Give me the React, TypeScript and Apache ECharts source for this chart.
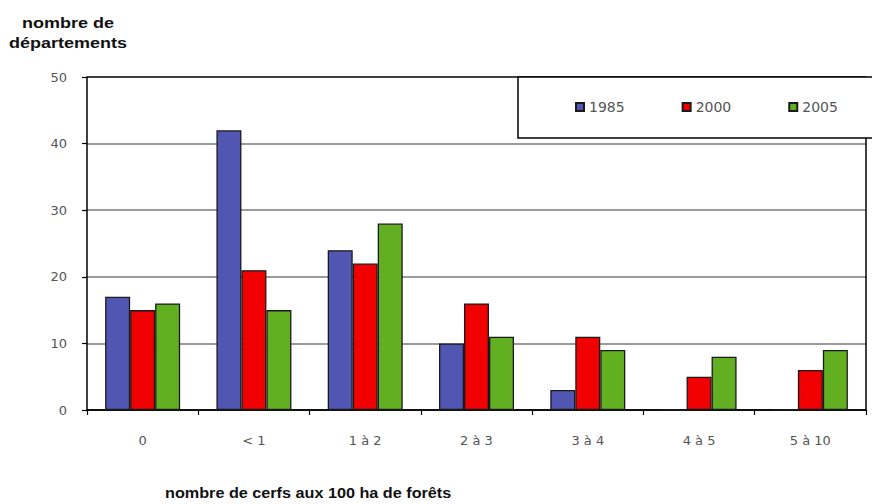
import React, { useEffect, useRef } from "react";
import * as echarts from "echarts";

const categories = ["0", "< 1", "1 à 2", "2 à 3", "3 à 4", "4 à 5", "5 à 10"];
const seriesNames = ["1985", "2000", "2005"];
const values1985 = [17, 42, 24, 10, 3, 0, 0];
const values2000 = [15, 21, 22, 16, 11, 5, 6];
const values2005 = [16, 15, 28, 11, 9, 8, 9];
const colors = ["#5056B2", "#F00000", "#62B022"];
const yTitle = ["nombre de", "départements"];
const xTitle = "nombre de cerfs aux 100 ha de forêts";

export default function App() {
  const ref = useRef<HTMLDivElement>(null);
  useEffect(() => {
    if (!ref.current) return;
    const chart = echarts.init(ref.current, null, { renderer: "svg" });
    const data = [values1985, values2000, values2005];
    chart.setOption({
      animation: false,
      backgroundColor: "#fff",
      grid: { left: 87, right: 6, top: 77, bottom: 94 },
      legend: {
        data: seriesNames,
        left: 575,
        top: 100,
        padding: 0,
        itemWidth: 8,
        itemHeight: 8,
        itemGap: 57,
        icon: "rect",
        z: 20,
        textStyle: { fontFamily: "DejaVu Sans", fontSize: 14, color: "#555" },
      },
      xAxis: {
        type: "category",
        data: categories,
        boundaryGap: true,
        axisLine: { lineStyle: { color: "#000", width: 1.5 } },
        axisTick: { show: true, inside: false, length: 5, interval: 0, lineStyle: { color: "#000", width: 1.2 } },
        axisLabel: { margin: 24, fontFamily: "DejaVu Sans", fontSize: 13, color: "#555", interval: 0 },
        splitLine: { show: false },
      },
      yAxis: {
        type: "value",
        min: 0,
        max: 50,
        interval: 10,
        axisLine: { show: true, lineStyle: { color: "#000", width: 1.5 } },
        axisTick: { show: true, inside: false, length: 5, lineStyle: { color: "#000", width: 1.2 } },
        axisLabel: { margin: 20, fontFamily: "DejaVu Sans", fontSize: 13, color: "#555" },
        splitLine: {
          show: true,
          lineStyle: { color: ["#000", "#7a7a7a", "#7a7a7a", "#7a7a7a", "#7a7a7a", "#000"], width: 1.5 },
        },
      },
      series: seriesNames.map((name, i) => ({
        name,
        type: "bar",
        data: data[i],
        barWidth: 25,
        barGap: "0%",
        itemStyle: { color: colors[i], borderColor: "#1a1a1a", borderWidth: 1.3 },
      })),
      graphic: [
        {
          type: "rect",
          z: 10,
          shape: { x: 518, y: 77, width: 360, height: 61 },
          style: { fill: "#fff", stroke: "#000", lineWidth: 1.5 },
        },
        {
          type: "line",
          z: 10,
          shape: { x1: 866, y1: 138, x2: 866, y2: 410 },
          style: { stroke: "#000", lineWidth: 1.5 },
        },
        {
          type: "text",
          x: 68,
          y: 23,
          scaleX: 1.2,
          style: {
            text: yTitle[0],
            fontFamily: "Liberation Sans, Arial",
            fontWeight: "bold",
            fontSize: 15,
            fill: "#111",
            align: "center",
            verticalAlign: "middle",
          },
        },
        {
          type: "text",
          x: 68,
          y: 43,
          scaleX: 1.2,
          style: {
            text: yTitle[1],
            fontFamily: "Liberation Sans, Arial",
            fontWeight: "bold",
            fontSize: 15,
            fill: "#111",
            align: "center",
            verticalAlign: "middle",
          },
        },
        {
          type: "text",
          x: 165,
          y: 493,
          scaleX: 1.08,
          style: {
            text: xTitle,
            fontFamily: "Liberation Sans, Arial",
            fontWeight: "bold",
            fontSize: 15,
            fill: "#111",
            align: "left",
            verticalAlign: "middle",
          },
        },
      ],
    });
    return () => chart.dispose();
  }, []);
  return (
    <div
      ref={ref}
      style={{ position: "absolute", left: 0, top: 0, width: 872, height: 504 }}
    />
  );
}
